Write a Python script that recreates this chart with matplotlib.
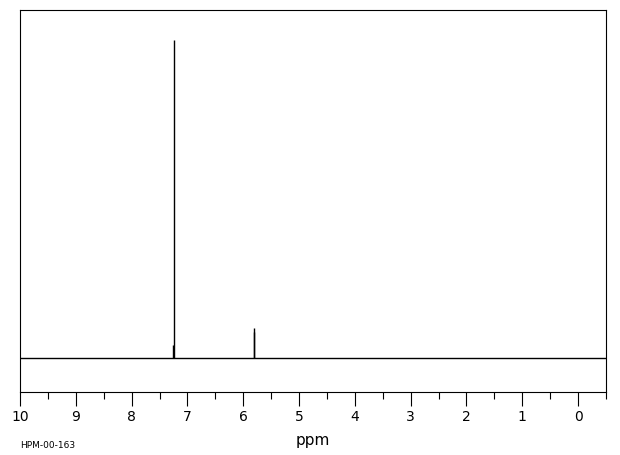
import matplotlib
matplotlib.use("Agg")
import matplotlib.pyplot as plt
from matplotlib.ticker import MultipleLocator

# Data (ppm, relative intensity)
peak_ppm = [7.249, 7.265, 5.815, 5.800]
peak_height = [318, 13, 30.5, 26.5]
x_range = [10.0, -0.5]
tick_values = [10, 9, 8, 7, 6, 5, 4, 3, 2, 1, 0]
sample_id = "HPM-00-163"

W, H = 620, 455
fig = plt.figure(figsize=(W / 100, H / 100), dpi=100)
ax = fig.add_axes([20 / W, (H - 392) / H, 586 / W, (392 - 10) / H])

ax.plot(x_range, [0, 0], color="black", lw=1.0)
ax.vlines(peak_ppm, 0, peak_height, color="black", lw=1.0)

ax.set_xlim(x_range)
ax.set_ylim(-34, 348)
ax.set_yticks([])
ax.xaxis.set_major_locator(MultipleLocator(1))
ax.xaxis.set_minor_locator(MultipleLocator(0.5))
ax.set_xticks(tick_values)
ax.set_xticklabels([str(v) for v in tick_values], fontsize=10)
ax.tick_params(axis="x", which="major", direction="out", length=10, width=0.8, pad=3)
ax.tick_params(axis="x", which="minor", direction="out", length=5, width=0.8)
for s in ax.spines.values():
    s.set_linewidth(0.8)

fig.text(313 / W, 1 - 440 / H, "ppm", ha="center", va="center", fontsize=11)
fig.text(20 / W, 1 - 445 / H, sample_id, ha="left", va="center", fontsize=6.5)

fig.savefig("out.png", dpi=100)
